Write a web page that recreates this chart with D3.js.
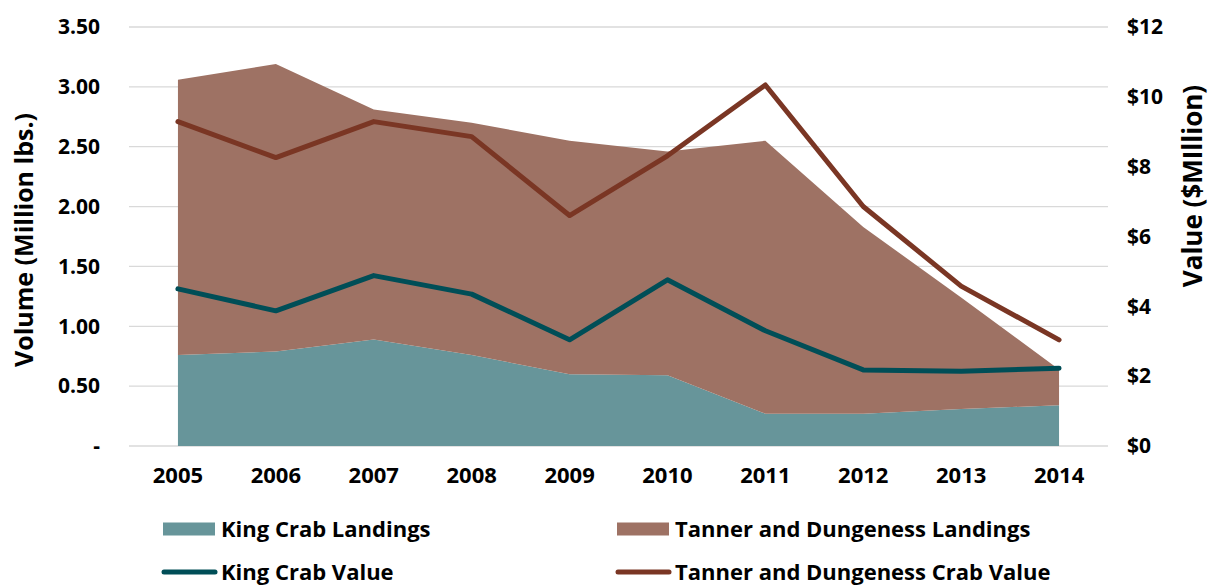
<!DOCTYPE html>
<html>
<head>
<meta charset="utf-8">
<script src="https://cdn.jsdelivr.net/npm/d3@7"></script>
<style>
  html, body { margin: 0; padding: 0; background: #fff; }
  svg { display: block; }
  text { font-family: "Open Sans", Lato, sans-serif; font-weight: bold; fill: #000; }
</style>
</head>
<body>
<svg id="chart" width="1212" height="586"></svg>
<script>
const years = ['2005','2006','2007','2008','2009','2010','2011','2012','2013','2014'];
const kingLandings   = [0.76, 0.79, 0.89, 0.76, 0.60, 0.59, 0.27, 0.27, 0.31, 0.34];
const tannerLandings = [2.30, 2.40, 1.92, 1.94, 1.95, 1.87, 2.28, 1.56, 0.93, 0.30];
const kingValue      = [4.50, 3.87, 4.88, 4.35, 3.04, 4.76, 3.30, 2.18, 2.14, 2.23];
const tannerValue    = [9.29, 8.26, 9.29, 8.86, 6.60, 8.31, 10.34, 6.86, 4.58, 3.04];
const leftTicks  = [0, 0.5, 1, 1.5, 2, 2.5, 3, 3.5];
const leftTickLabels = ['-', '0.50', '1.00', '1.50', '2.00', '2.50', '3.00', '3.50'];
const rightTicks = [0, 2, 4, 6, 8, 10, 12];
const rightTickLabels = ['$0', '$2', '$4', '$6', '$8', '$10', '$12'];
const seriesNames = ['King Crab Landings', 'Tanner and Dungeness Landings', 'King Crab Value', 'Tanner and Dungeness Crab Value'];

const colors = {
  king: '#67959A',
  tanner: '#9E7264',
  kingLine: '#004E57',
  tannerLine: '#7A3624',
  grid: '#D9D9D9'
};

const svg = d3.select('#chart');
const plot = { left: 129, right: 1108, top: 27, bottom: 446 };

const x = d3.scaleBand().domain(years).range([plot.left, plot.right]).padding(0);
const cx = d => x(d) + x.bandwidth() / 2;
const yL = d3.scaleLinear().domain([0, 3.5]).range([plot.bottom, plot.top]);
const yR = d3.scaleLinear().domain([0, 12]).range([plot.bottom, plot.top]);

// gridlines
svg.append('g').selectAll('line').data(leftTicks).join('line')
  .attr('x1', plot.left).attr('x2', plot.right)
  .attr('y1', d => yL(d)).attr('y2', d => yL(d))
  .attr('stroke', colors.grid).attr('stroke-width', 1.3);

// stacked data
const rows = years.map((yr, i) => ({ year: yr, king: kingLandings[i], tanner: tannerLandings[i] }));
const stack = d3.stack().keys(['king', 'tanner'])(rows);
const area = d3.area()
  .x(d => cx(d.data.year))
  .y0(d => yL(d[0]))
  .y1(d => yL(d[1]));

svg.append('g').selectAll('path').data(stack).join('path')
  .attr('d', area)
  .attr('fill', d => d.key === 'king' ? colors.king : colors.tanner);

// lines
const line = d3.line().x((d, i) => cx(years[i])).y(d => yR(d));
svg.append('path').datum(kingValue).attr('d', line)
  .attr('fill', 'none').attr('stroke', colors.kingLine).attr('stroke-width', 5)
  .attr('stroke-linecap', 'round').attr('stroke-linejoin', 'round');
svg.append('path').datum(tannerValue).attr('d', line)
  .attr('fill', 'none').attr('stroke', colors.tannerLine).attr('stroke-width', 5)
  .attr('stroke-linecap', 'round').attr('stroke-linejoin', 'round');

const FONT = '"Open Sans", Lato, sans-serif';

// left axis
const leftAxis = d3.axisLeft(yL).tickValues(leftTicks)
  .tickFormat((d, i) => leftTickLabels[i]).tickSize(0).tickPadding(0);
const gL = svg.append('g').attr('transform', 'translate(100,0)').call(leftAxis);
gL.select('.domain').remove();
gL.selectAll('text').attr('font-size', 21).attr('font-family', FONT)
  .attr('font-weight', 'bold').attr('fill', '#000');

// right axis
const rightAxis = d3.axisRight(yR).tickValues(rightTicks)
  .tickFormat((d, i) => rightTickLabels[i]).tickSize(0).tickPadding(0);
const gR = svg.append('g').attr('transform', 'translate(1127,0)').call(rightAxis);
gR.select('.domain').remove();
gR.selectAll('text').attr('font-size', 21).attr('font-family', FONT)
  .attr('font-weight', 'bold').attr('fill', '#000');

// bottom axis
const bottomAxis = d3.axisBottom(x).tickSize(0).tickPadding(0);
const gB = svg.append('g').attr('transform', 'translate(0,467)').call(bottomAxis);
gB.select('.domain').remove();
gB.selectAll('text').attr('font-size', 22).attr('font-family', FONT)
  .attr('font-weight', 'bold').attr('fill', '#000').attr('dy', '0.71em');

// axis titles
svg.append('text').attr('transform', 'translate(33,240) rotate(-90)')
  .attr('text-anchor', 'middle').attr('font-size', 25).text('Volume (Million lbs.)');
svg.append('text').attr('transform', 'translate(1202,186) rotate(-90)')
  .attr('text-anchor', 'middle').attr('font-size', 26).text('Value ($MIllion)');

// legend
const legendItems = [
  { name: seriesNames[0], type: 'rect', color: colors.king, x: 163, y: 529 },
  { name: seriesNames[1], type: 'rect', color: colors.tanner, x: 617, y: 529 },
  { name: seriesNames[2], type: 'line', color: colors.kingLine, x: 163, y: 572 },
  { name: seriesNames[3], type: 'line', color: colors.tannerLine, x: 617, y: 572 }
];
const lg = svg.append('g').selectAll('g').data(legendItems).join('g')
  .attr('transform', d => `translate(${d.x},${d.y})`);
lg.filter(d => d.type === 'rect').append('rect')
  .attr('x', 0).attr('y', -6.5).attr('width', 52).attr('height', 13).attr('fill', d => d.color);
lg.filter(d => d.type === 'line').append('line')
  .attr('x1', 1).attr('x2', 52).attr('y1', 0).attr('y2', 0)
  .attr('stroke', d => d.color).attr('stroke-width', 5).attr('stroke-linecap', 'round');
lg.append('text').attr('x', 58).attr('y', 0).attr('dy', '0.36em')
  .attr('font-size', 22).text(d => d.name);
</script>
</body>
</html>
